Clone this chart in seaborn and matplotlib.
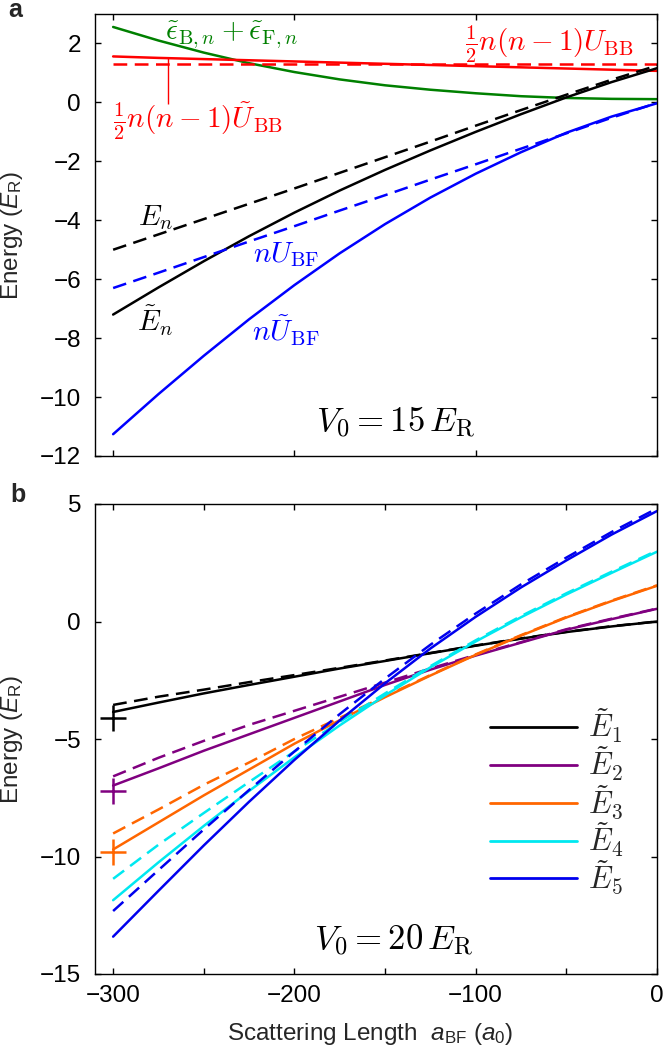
import numpy as np
import pandas as pd
import matplotlib
matplotlib.use("Agg")
import matplotlib.pyplot as plt
from matplotlib.font_manager import FontProperties
from matplotlib.lines import Line2D
import seaborn as sns

sns.set_theme(style="ticks")
plt.rcParams["font.family"] = ["Liberation Sans", "DejaVu Sans"]
plt.rcParams["mathtext.fontset"] = "custom"
plt.rcParams["mathtext.rm"] = "Liberation Sans"
plt.rcParams["mathtext.it"] = "Liberation Sans:italic"
plt.rcParams["mathtext.bf"] = "Liberation Sans:bold"
plt.rcParams["lines.dashed_pattern"] = [5.5, 3.0]

# ---------------- data ----------------
a_bf = [-300, -275, -250, -225, -200, -175, -150, -125, -100, -75, -50, -25, 0]

# panel a (V0 = 15 E_R)
eps_sum = [2.56, 2.10, 1.69, 1.33, 1.03, 0.78, 0.58, 0.43, 0.31, 0.21, 0.15, 0.12, 0.11]
ubb_tilde = [1.56, 1.51, 1.47, 1.43, 1.39, 1.35, 1.31, 1.27, 1.23, 1.19, 1.15, 1.11, 1.07]
ubb = [1.31, 1.31, 1.31, 1.31, 1.31, 1.31, 1.31, 1.31, 1.31, 1.31, 1.31, 1.31, 1.31]
e_n = [-5.00, -4.48, -3.96, -3.44, -2.92, -2.39, -1.86, -1.33, -0.79, -0.26, 0.26, 0.77, 1.25]
e_n_tilde = [-7.20, -6.28, -5.39, -4.54, -3.74, -2.99, -2.29, -1.63, -1.00, -0.40, 0.17, 0.69, 1.16]
nubf = [-6.30, -5.78, -5.25, -4.72, -4.20, -3.67, -3.15, -2.62, -2.10, -1.57, -1.05, -0.52, -0.02]
nubf_tilde = [-11.26, -9.90, -8.60, -7.36, -6.20, -5.12, -4.13, -3.23, -2.42, -1.69, -1.03, -0.48, -0.03]

# panel b (V0 = 20 E_R): solid = tilde E_n, dashed = E_n
E1_t = [-3.85, -3.45, -3.06, -2.70, -2.35, -2.00, -1.68, -1.35, -1.03, -0.73, -0.45, -0.21, 0.00]
E1 = [-3.55, -3.20, -2.90, -2.58, -2.28, -1.97, -1.66, -1.34, -1.02, -0.72, -0.44, -0.20, 0.00]
E2_t = [-6.98, -6.25, -5.50, -4.80, -4.10, -3.40, -2.70, -2.05, -1.45, -0.90, -0.35, 0.10, 0.54]
E2 = [-6.59, -5.80, -5.08, -4.40, -3.80, -3.20, -2.60, -2.00, -1.42, -0.88, -0.33, 0.12, 0.55]
E3_t = [-9.70, -8.55, -7.40, -6.30, -5.20, -4.20, -3.22, -2.30, -1.42, -0.60, 0.17, 0.87, 1.52]
E3 = [-9.02, -8.00, -6.95, -6.00, -5.00, -4.10, -3.18, -2.28, -1.40, -0.58, 0.19, 0.89, 1.54]
E4_t = [-11.86, -10.25, -8.70, -7.21, -5.78, -4.42, -3.14, -1.95, -0.85, 0.18, 1.15, 2.07, 2.97]
E4 = [-10.95, -9.50, -8.15, -6.83, -5.53, -4.27, -3.06, -1.90, -0.80, 0.23, 1.20, 2.12, 3.02]
E5_t = [-13.41, -11.46, -9.53, -7.67, -5.89, -4.21, -2.63, -1.15, 0.20, 1.45, 2.60, 3.70, 4.70]
E5 = [-12.32, -10.58, -8.85, -7.17, -5.53, -3.94, -2.43, -0.99, 0.34, 1.58, 2.72, 3.81, 4.81]

# markers at a = -300
marker_a = [-300, -300, -300]
marker_E = [-4.10, -7.22, -9.82]

labels_b = [r"$\tilde{E}_1$", r"$\tilde{E}_2$", r"$\tilde{E}_3$", r"$\tilde{E}_4$", r"$\tilde{E}_5$"]
colors_b = ["#000000", "#800080", "#ff6600", "#00e8f0", "#0000ee"]

# ---------------- figure ----------------
W, H = 664, 1057
fig = plt.figure(figsize=(W / 100, H / 100), dpi=100)
ax1 = fig.add_axes([95 / W, 1 - 456 / H, 562 / W, 442 / H])
ax2 = fig.add_axes([95 / W, 1 - 974 / H, 562 / W, 470 / H])

LW = 1.8
GREEN, RED, BLUE = "#008000", "#ff0000", "#0000ff"

def line(ax, y, color, ls="-", lw=LW):
    sns.lineplot(x=a_bf, y=y, ax=ax, color=color, linestyle=ls, linewidth=lw,
                 estimator=None, legend=False)

# panel a
line(ax1, eps_sum, GREEN)
line(ax1, ubb_tilde, RED)
line(ax1, ubb, RED, "--")
line(ax1, e_n, "black", "--")
line(ax1, e_n_tilde, "black")
line(ax1, nubf, BLUE, "--")
line(ax1, nubf_tilde, BLUE)

# leader line from the U_BB tilde label to its curve
LEAD_A, LEAD_Y0, LEAD_Y1 = -270, -0.05, 1.50
ax1.vlines(LEAD_A, LEAD_Y0, LEAD_Y1, color=RED, lw=1.0)

tk = dict(math_fontfamily="cm", ha="center", va="center")
FS = 21
ax1.text(-234.5, 2.29, r"$\tilde{\epsilon}_{\mathrm{B},n}+\tilde{\epsilon}_{\mathrm{F},n}$",
         color=GREEN, fontsize=FS, **tk)
ax1.text(-59.6, 1.95, r"$\frac{1}{2}n(n-1)U_{\mathrm{BB}}$", color=RED, fontsize=FS, **tk)
ax1.text(-253, -0.64, r"$\frac{1}{2}n(n-1)\tilde{U}_{\mathrm{BB}}$", color=RED, fontsize=FS, **tk)
ax1.text(-276.5, -3.9, r"$E_n$", color="black", fontsize=FS, **tk)
ax1.text(-276.5, -7.42, r"$\tilde{E}_n$", color="black", fontsize=FS, **tk)
ax1.text(-204.8, -5.15, r"$nU_{\mathrm{BF}}$", color=BLUE, fontsize=FS, **tk)
ax1.text(-204.8, -7.75, r"$n\tilde{U}_{\mathrm{BF}}$", color=BLUE, fontsize=FS, **tk)
ax1.text(-144, -10.84, r"$V_0=15\,E_{\mathrm{R}}$", color="black", fontsize=25, **tk)

# panel b
sol = [E1_t, E2_t, E3_t, E4_t, E5_t]
das = [E1, E2, E3, E4, E5]
for ys, yd, c in zip(sol, das, colors_b):
    line(ax2, yd, c, "--")
    line(ax2, ys, c)
for xa, ya, c in zip(marker_a, marker_E, colors_b[:3]):
    ax2.plot([xa], [ya], marker="+", ms=19, mew=1.8, color=c, ls="none")
ax2.text(-145.1, -13.57, r"$V_0=20\,E_{\mathrm{R}}$", color="black", fontsize=25, **tk)

handles = [Line2D([], [], color=c, lw=2.0) for c in colors_b]
ax2.legend(handles, labels_b, loc="center left", bbox_to_anchor=(0.703, 0.3666),
           frameon=False, borderpad=0, borderaxespad=0, handlelength=2.85,
           handletextpad=0.36, labelspacing=0.0,
           prop=FontProperties(size=22, math_fontfamily="cm"))

# axes styling
for ax in (ax1, ax2):
    ax.set_xlim(-310, 0)
    ax.tick_params(direction="in", length=4, width=1, top=True, right=True,
                   labelsize=17.5, colors="black")
    ax.tick_params(axis="y", pad=10)
    ax.tick_params(axis="x", pad=8)
    for s in ax.spines.values():
        s.set_linewidth(1.0)
        s.set_color("black")
    ax.set_ylabel(r"Energy ($E_{\mathrm{R}}$)", fontsize=17.5)
    ax.yaxis.set_label_coords(-0.125, 0.5)

ax1.set_ylim(-12, 3)
ax1.set_yticks([2, 0, -2, -4, -6, -8, -10, -12])
ax1.set_xticks([-300, -200, -100, 0])
ax1.set_xticklabels([])
ax1.set_xlabel("")

ax2.set_ylim(-15, 5)
ax2.set_yticks([5, 0, -5, -10, -15])
ax2.set_xticks([-300, -250, -200, -150, -100, -50, 0])
ax2.set_xticklabels(["\u2212300", "", "\u2212200", "", "\u2212100", "", "0"])
ax2.set_xlabel(r"Scattering Length  $a_{\mathrm{BF}}$ ($a_0$)", fontsize=17.5)
ax2.xaxis.set_label_coords(0.49, -0.1)

fig.text(8.5 / W, 1 - 17 / H, "a", fontsize=18, fontweight="bold", va="baseline")
fig.text(10.6 / W, 1 - 502 / H, "b", fontsize=18, fontweight="bold", va="baseline")

fig.savefig("out.png", dpi=100)
